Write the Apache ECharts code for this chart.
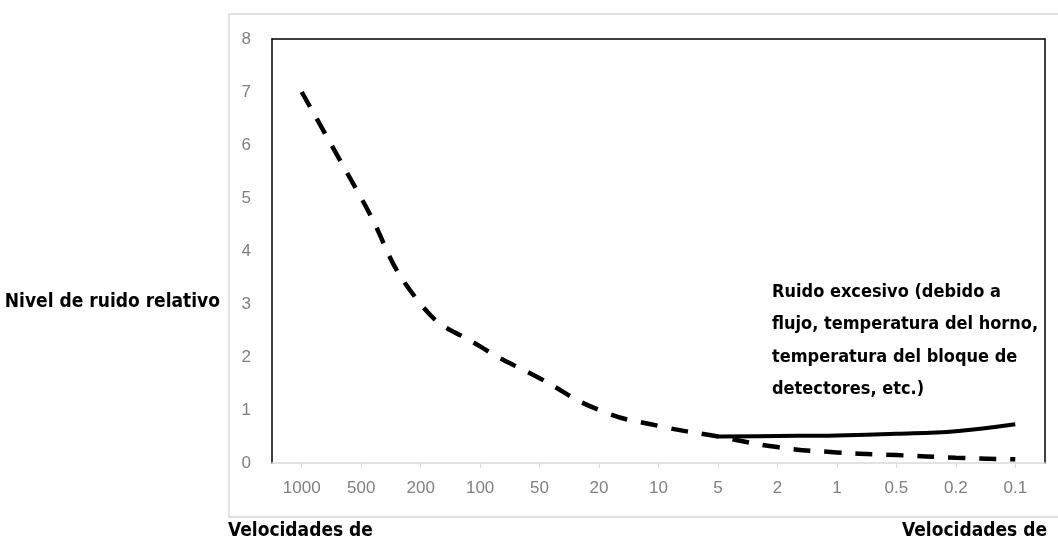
<!DOCTYPE html>
<html>
<head>
<meta charset="utf-8">
<script src="https://cdn.jsdelivr.net/npm/echarts@6/dist/echarts.min.js"></script>
<style>
html,body{margin:0;padding:0;background:#fff;}
#c{width:1058px;height:542px;}
</style>
</head>
<body>
<div id="c"></div>
<script>
const categories = ['1000','500','200','100','50','20','10','5','2','1','0.5','0.2','0.1'];
const dashedValues = [7.0, 5.0, 3.0, 2.2, 1.6, 1.0, 0.7, 0.5, 0.3, 0.2, 0.15, 0.1, 0.07];
const solidValues = [null, null, null, null, null, null, null, 0.5, 0.51, 0.52, 0.55, 0.6, 0.73];
const yMin = 0, yMax = 8, yStep = 1;
const yAxisTitle = 'Nivel de ruido relativo';
const noteLines = ['Ruido excesivo (debido a', 'flujo, temperatura del horno,', 'temperatura del bloque de', 'detectores, etc.)'];
const bottomLeftText = 'Velocidades de';
const bottomRightText = 'Velocidades de';

const boldFont = "'Liberation Sans Narrow', 'Arial Narrow', 'DejaVu Sans Condensed', sans-serif";
const tickFont = "'Liberation Sans', 'Open Sans', sans-serif";

const chart = echarts.init(document.getElementById('c'));
const graphics = [
  { type: 'rect', shape: { x: 229, y: 14, width: 840, height: 503 }, style: { fill: 'none', stroke: '#d9d9d9', lineWidth: 1.5 }, z: 0 },
  { type: 'text', style: { text: yAxisTitle, x: 220, y: 302, textAlign: 'right', textVerticalAlign: 'middle', font: 'bold 19px ' + boldFont, fill: '#000' } },
  { type: 'text', style: { text: bottomLeftText, x: 228, y: 531, textAlign: 'left', textVerticalAlign: 'middle', font: 'bold 19px ' + boldFont, fill: '#000' } },
  { type: 'text', style: { text: bottomRightText, x: 1047, y: 531, textAlign: 'right', textVerticalAlign: 'middle', font: 'bold 19px ' + boldFont, fill: '#000' } }
];
noteLines.forEach((t, i) => {
  graphics.push({ type: 'text', style: { text: t, x: 772, y: 292 + i * 32.5, textAlign: 'left', textVerticalAlign: 'middle', font: 'bold 18px ' + boldFont, fill: '#000' } });
});

chart.setOption({
  animation: false,
  backgroundColor: '#fff',
  grid: { left: 272, right: 13, top: 39, bottom: 79, show: false },
  xAxis: [
    {
      type: 'category', data: categories, boundaryGap: true, position: 'bottom',
      axisLine: { show: true, onZero: false, lineStyle: { color: '#d9d9d9', width: 1.5 } },
      axisTick: { show: true, alignWithLabel: true, length: 5, lineStyle: { color: '#d9d9d9' } },
      axisLabel: { color: '#808080', fontSize: 17, fontFamily: tickFont, margin: 17 },
      splitLine: { show: false }
    },
    {
      type: 'category', data: categories, position: 'top',
      axisLine: { show: true, onZero: false, lineStyle: { color: '#000', width: 1.5 } },
      axisTick: { show: false }, axisLabel: { show: false }
    }
  ],
  yAxis: [
    {
      type: 'value', min: yMin, max: yMax, interval: yStep, position: 'left',
      axisLine: { show: true, onZero: false, lineStyle: { color: '#000', width: 1.5 } },
      axisTick: { show: false },
      axisLabel: { color: '#808080', fontSize: 17, fontFamily: tickFont, margin: 21 },
      splitLine: { show: false }
    },
    {
      type: 'value', min: yMin, max: yMax, interval: yStep, position: 'right',
      axisLine: { show: true, onZero: false, lineStyle: { color: '#000', width: 1.5 } },
      axisTick: { show: false }, axisLabel: { show: false }, splitLine: { show: false }
    }
  ],
  series: [
    {
      type: 'line', data: dashedValues, smooth: 0.5, symbol: 'none',
      lineStyle: { color: '#000', width: 4.5, type: [17, 14], cap: 'butt' }, z: 3
    },
    {
      type: 'line', data: solidValues, smooth: 0.4, symbol: 'none', connectNulls: false,
      lineStyle: { color: '#000', width: 4, type: 'solid' }, z: 4
    }
  ],
  graphic: graphics
});
</script>
</body>
</html>
